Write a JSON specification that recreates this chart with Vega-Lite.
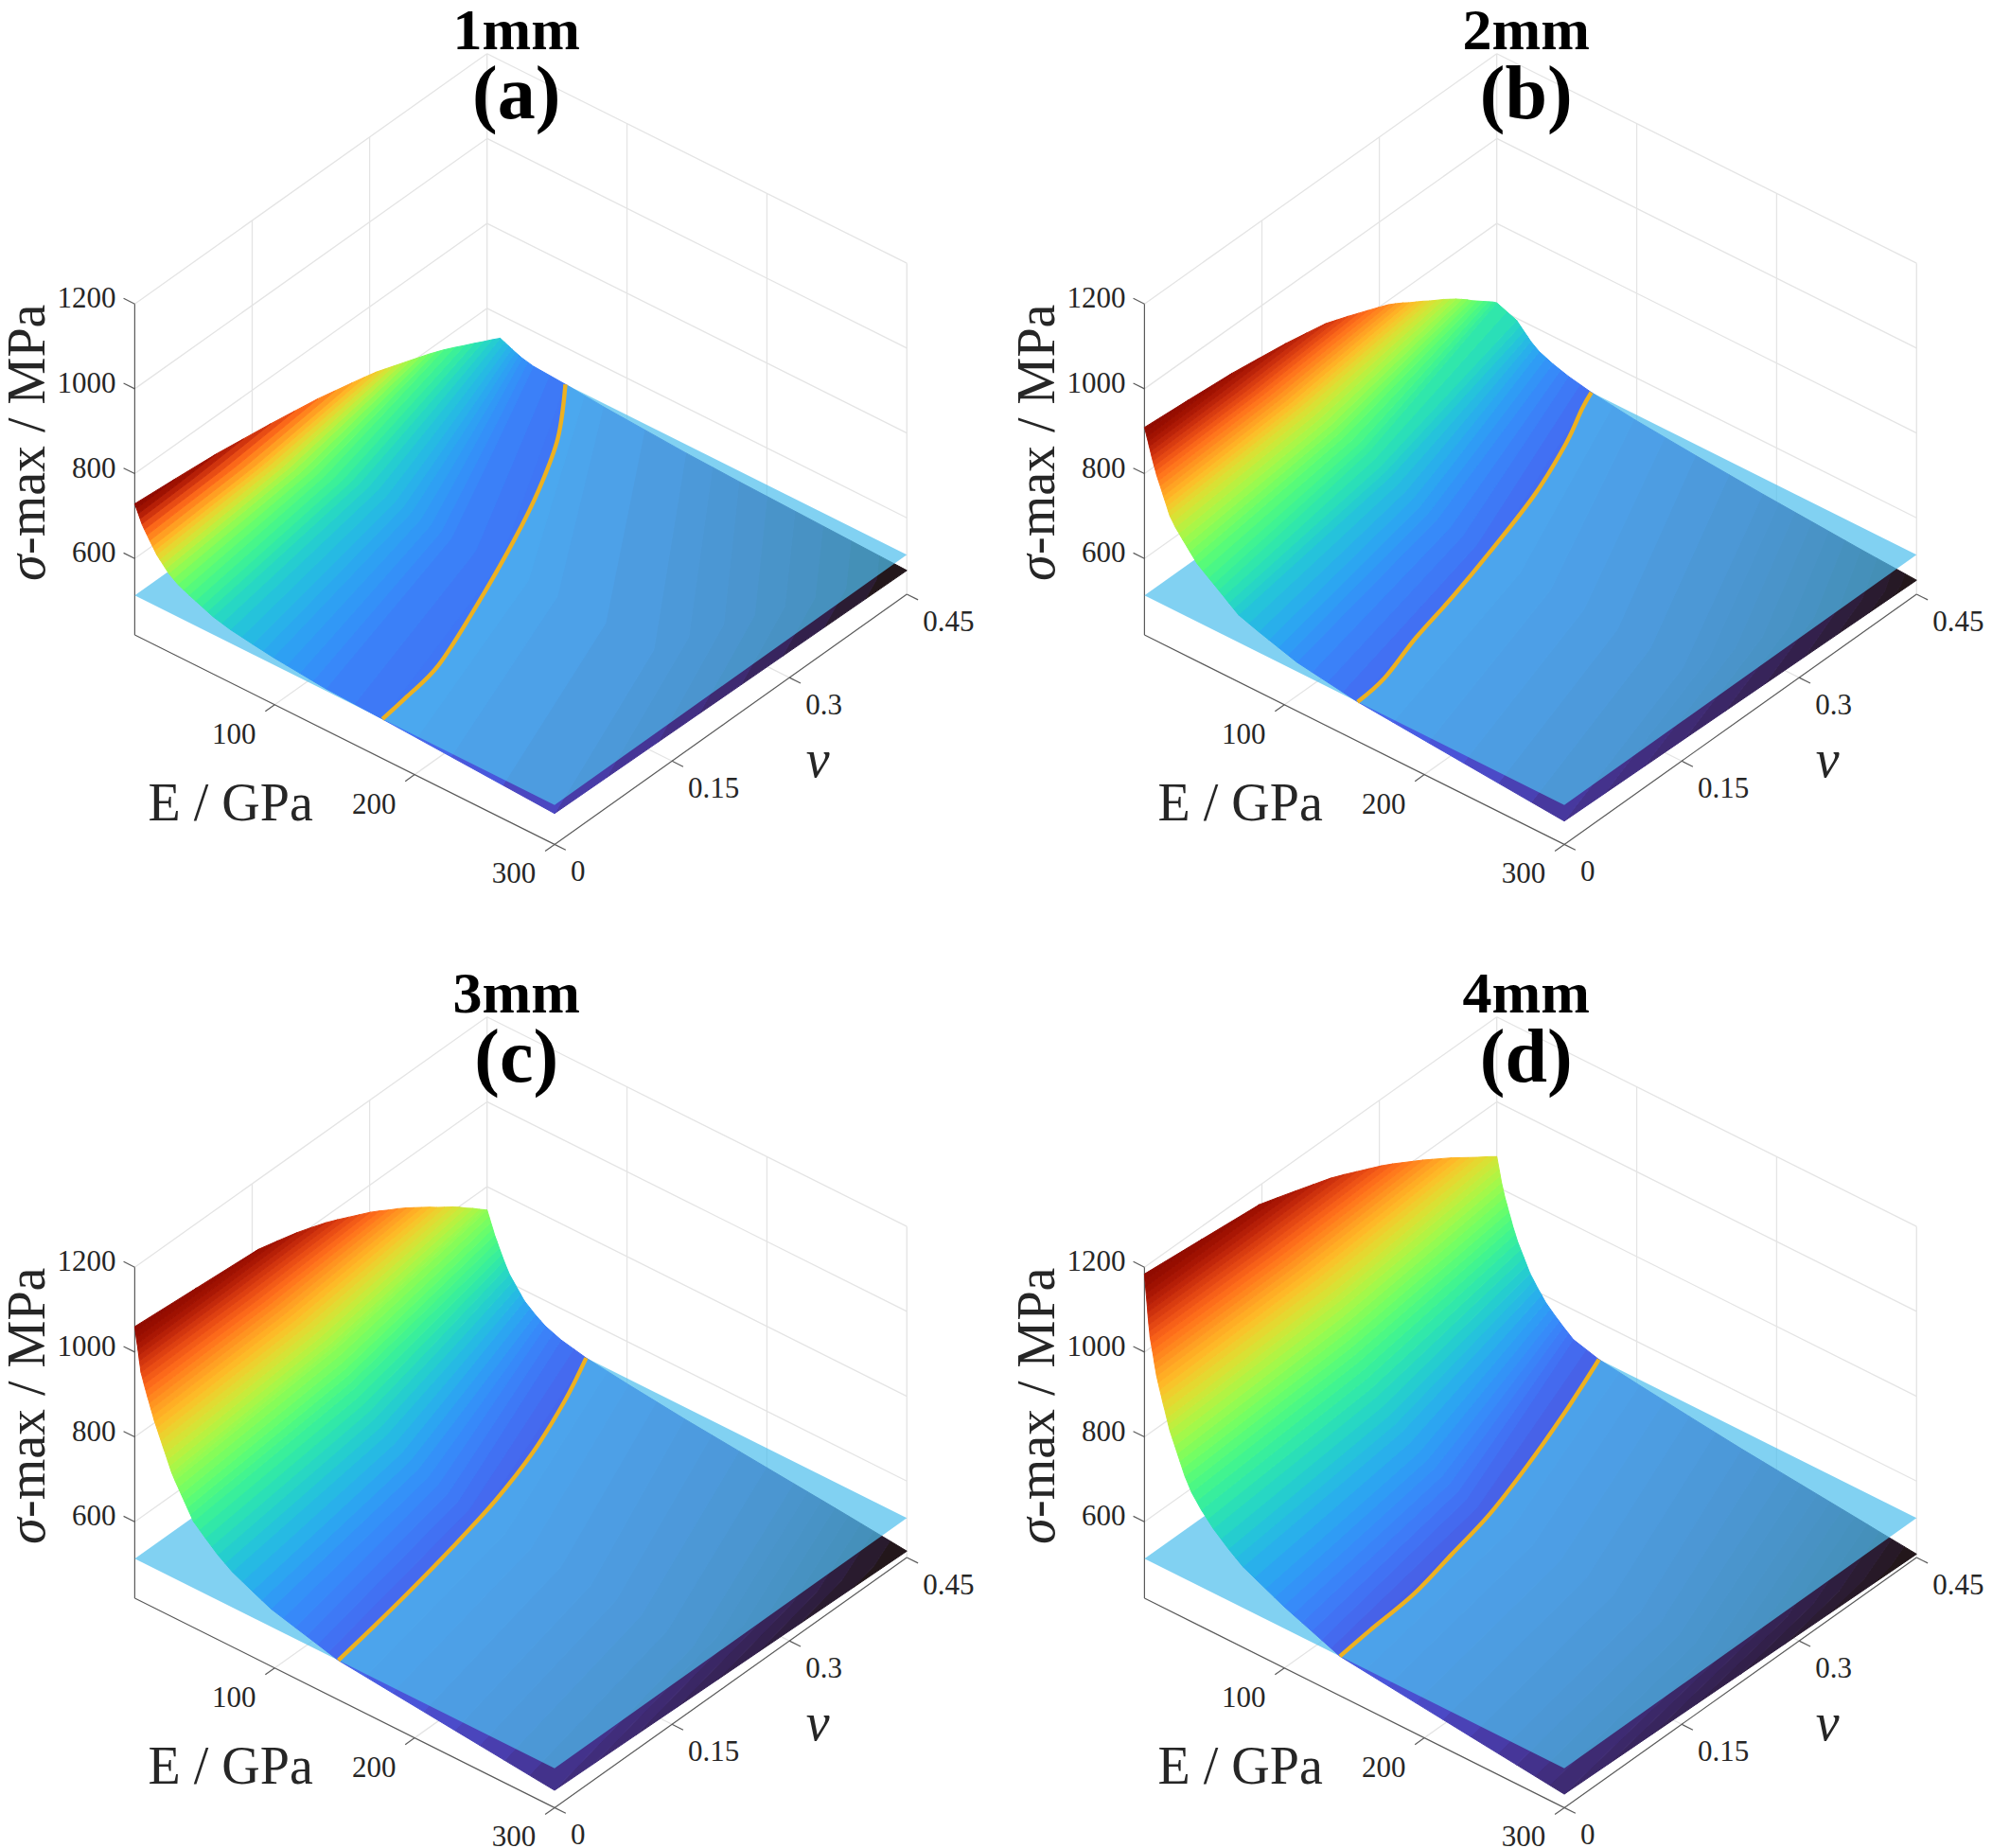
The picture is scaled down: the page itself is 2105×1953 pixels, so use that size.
{"$schema":"https://vega.github.io/schema/vega-lite/v6.json","padding":0,"background":"white","config":{"view":{"stroke":null},"header":{"labels":false,"title":null,"labelFontSize":1,"labelPadding":0,"labelColor":"transparent"},"headerFacet":{"labels":false,"title":null,"labelFontSize":1,"labelPadding":0,"labelColor":"transparent"}},
"datasets":{"surf":[
{"p":"1mm","lab":"(a)","E":0,"nu":0.45,"s":1200},{"p":"2mm","lab":"(b)","E":0,"nu":0.45,"s":1200},{"p":"3mm","lab":"(c)","E":0,"nu":0.45,"s":1200},{"p":"4mm","lab":"(d)","E":0,"nu":0.45,"s":1200},
{"p":"1mm","s":476,"t":0,"E":300,"nu":0.45},{"p":"1mm","s":476,"t":1,"E":300,"nu":0.45},{"p":"1mm","s":476,"t":2,"E":300,"nu":0.45},
{"p":"1mm","s":478,"t":0,"E":300,"nu":0.397},{"p":"1mm","s":478,"t":1,"E":293,"nu":0.424},{"p":"1mm","s":478,"t":2,"E":280,"nu":0.45},
{"p":"1mm","s":480,"t":0,"E":300,"nu":0.344},{"p":"1mm","s":480,"t":1,"E":286,"nu":0.397},{"p":"1mm","s":480,"t":2,"E":260,"nu":0.45},
{"p":"1mm","s":482,"t":0,"E":300,"nu":0.291},{"p":"1mm","s":482,"t":1,"E":279,"nu":0.37},{"p":"1mm","s":482,"t":2,"E":240,"nu":0.45},
{"p":"1mm","s":484,"t":0,"E":300,"nu":0.238},{"p":"1mm","s":484,"t":1,"E":272,"nu":0.344},{"p":"1mm","s":484,"t":2,"E":220,"nu":0.45},
{"p":"1mm","s":486,"t":0,"E":300,"nu":0.185},{"p":"1mm","s":486,"t":1,"E":265,"nu":0.318},{"p":"1mm","s":486,"t":2,"E":200,"nu":0.45},
{"p":"1mm","s":488,"t":0,"E":300,"nu":0.132},{"p":"1mm","s":488,"t":1,"E":258,"nu":0.291},{"p":"1mm","s":488,"t":2,"E":180,"nu":0.45},
{"p":"1mm","s":490.5,"t":0,"E":300,"nu":0.066},{"p":"1mm","s":490.5,"t":1,"E":251.5,"nu":0.258},{"p":"1mm","s":490.5,"t":2,"E":161,"nu":0.45},
{"p":"1mm","s":493,"t":0,"E":300,"nu":0},{"p":"1mm","s":493,"t":1,"E":245,"nu":0.225},{"p":"1mm","s":493,"t":2,"E":142,"nu":0.45},
{"p":"1mm","s":499,"t":0,"E":263,"nu":0},{"p":"1mm","s":499,"t":1,"E":210.5,"nu":0.225},{"p":"1mm","s":499,"t":2,"E":112.5,"nu":0.45},
{"p":"1mm","s":505,"t":0,"E":226,"nu":0},{"p":"1mm","s":505,"t":1,"E":176,"nu":0.225},{"p":"1mm","s":505,"t":2,"E":83,"nu":0.45},
{"p":"1mm","s":509,"t":0,"E":201.5,"nu":0},{"p":"1mm","s":509,"t":1,"E":155.3,"nu":0.225},{"p":"1mm","s":509,"t":2,"E":69.5,"nu":0.45},
{"p":"1mm","s":513,"t":0,"E":177,"nu":0},{"p":"1mm","s":513,"t":1,"E":134.6,"nu":0.225},{"p":"1mm","s":513,"t":2,"E":56,"nu":0.45},
{"p":"1mm","s":515.5,"t":0,"E":157,"nu":0},{"p":"1mm","s":515.5,"t":1,"E":117.5,"nu":0.225},{"p":"1mm","s":515.5,"t":2,"E":44.5,"nu":0.45},
{"p":"1mm","s":518,"t":0,"E":136.6,"nu":0},{"p":"1mm","s":518,"t":1,"E":100.3,"nu":0.225},{"p":"1mm","s":518,"t":2,"E":33,"nu":0.45},
{"p":"1mm","s":521,"t":0,"E":127.3,"nu":0},{"p":"1mm","s":521,"t":1,"E":92.9,"nu":0.225},{"p":"1mm","s":521,"t":2,"E":29,"nu":0.45},
{"p":"1mm","s":524,"t":0,"E":117.9,"nu":0},{"p":"1mm","s":524,"t":1,"E":85.4,"nu":0.225},{"p":"1mm","s":524,"t":2,"E":25,"nu":0.45},
{"p":"1mm","s":527,"t":0,"E":108.5,"nu":0},{"p":"1mm","s":527,"t":1,"E":78.4,"nu":0.225},{"p":"1mm","s":527,"t":2,"E":22.6,"nu":0.45},
{"p":"1mm","s":530,"t":0,"E":99,"nu":0},{"p":"1mm","s":530,"t":1,"E":71.4,"nu":0.225},{"p":"1mm","s":530,"t":2,"E":20.1,"nu":0.45},
{"p":"1mm","s":533.5,"t":0,"E":91.6,"nu":0},{"p":"1mm","s":533.5,"t":1,"E":65.7,"nu":0.225},{"p":"1mm","s":533.5,"t":2,"E":17.6,"nu":0.45},
{"p":"1mm","s":537,"t":0,"E":84.2,"nu":0},{"p":"1mm","s":537,"t":1,"E":60,"nu":0.225},{"p":"1mm","s":537,"t":2,"E":15.1,"nu":0.45},
{"p":"1mm","s":541,"t":0,"E":76.3,"nu":0},{"p":"1mm","s":541,"t":1,"E":53.9,"nu":0.225},{"p":"1mm","s":541,"t":2,"E":12.3,"nu":0.45},
{"p":"1mm","s":545,"t":0,"E":68.4,"nu":0},{"p":"1mm","s":545,"t":1,"E":47.8,"nu":0.225},{"p":"1mm","s":545,"t":2,"E":9.4,"nu":0.45},
{"p":"1mm","s":550,"t":0,"E":62.2,"nu":0},{"p":"1mm","s":550,"t":1,"E":43.3,"nu":0.221},{"p":"1mm","s":550,"t":2,"E":8.1,"nu":0.442},
{"p":"1mm","s":555,"t":0,"E":56,"nu":0},{"p":"1mm","s":555,"t":1,"E":38.8,"nu":0.217},{"p":"1mm","s":555,"t":2,"E":6.8,"nu":0.433},
{"p":"1mm","s":560.5,"t":0,"E":51.9,"nu":0},{"p":"1mm","s":560.5,"t":1,"E":35.6,"nu":0.212},{"p":"1mm","s":560.5,"t":2,"E":5.4,"nu":0.424},
{"p":"1mm","s":566,"t":0,"E":47.8,"nu":0},{"p":"1mm","s":566,"t":1,"E":32.4,"nu":0.207},{"p":"1mm","s":566,"t":2,"E":3.9,"nu":0.414},
{"p":"1mm","s":572,"t":0,"E":43.3,"nu":0},{"p":"1mm","s":572,"t":1,"E":29,"nu":0.202},{"p":"1mm","s":572,"t":2,"E":2.4,"nu":0.404},
{"p":"1mm","s":578,"t":0,"E":38.8,"nu":0},{"p":"1mm","s":578,"t":1,"E":25.5,"nu":0.197},{"p":"1mm","s":578,"t":2,"E":0.8,"nu":0.393},
{"p":"1mm","s":584,"t":0,"E":34.8,"nu":0},{"p":"1mm","s":584,"t":1,"E":22.8,"nu":0.193},{"p":"1mm","s":584,"t":2,"E":0.4,"nu":0.384},
{"p":"1mm","s":590,"t":0,"E":30.8,"nu":0},{"p":"1mm","s":590,"t":1,"E":20,"nu":0.188},{"p":"1mm","s":590,"t":2,"E":0,"nu":0.375},
{"p":"1mm","s":597.5,"t":0,"E":27.5,"nu":0},{"p":"1mm","s":597.5,"t":1,"E":17.9,"nu":0.182},{"p":"1mm","s":597.5,"t":2,"E":0,"nu":0.364},
{"p":"1mm","s":605,"t":0,"E":24.3,"nu":0},{"p":"1mm","s":605,"t":1,"E":15.8,"nu":0.177},{"p":"1mm","s":605,"t":2,"E":0,"nu":0.353},
{"p":"1mm","s":612.5,"t":0,"E":22.1,"nu":0},{"p":"1mm","s":612.5,"t":1,"E":14.4,"nu":0.172},{"p":"1mm","s":612.5,"t":2,"E":0,"nu":0.342},
{"p":"1mm","s":620,"t":0,"E":20,"nu":0},{"p":"1mm","s":620,"t":1,"E":13,"nu":0.166},{"p":"1mm","s":620,"t":2,"E":0,"nu":0.331},
{"p":"1mm","s":627.5,"t":0,"E":17.8,"nu":0},{"p":"1mm","s":627.5,"t":1,"E":11.6,"nu":0.16},{"p":"1mm","s":627.5,"t":2,"E":0,"nu":0.32},
{"p":"1mm","s":635,"t":0,"E":15.7,"nu":0},{"p":"1mm","s":635,"t":1,"E":10.2,"nu":0.155},{"p":"1mm","s":635,"t":2,"E":0,"nu":0.309},
{"p":"1mm","s":642.5,"t":0,"E":14.2,"nu":0},{"p":"1mm","s":642.5,"t":1,"E":9.2,"nu":0.147},{"p":"1mm","s":642.5,"t":2,"E":0,"nu":0.294},
{"p":"1mm","s":650,"t":0,"E":12.7,"nu":0},{"p":"1mm","s":650,"t":1,"E":8.3,"nu":0.139},{"p":"1mm","s":650,"t":2,"E":0,"nu":0.278},
{"p":"1mm","s":660,"t":0,"E":10.7,"nu":0},{"p":"1mm","s":660,"t":1,"E":7,"nu":0.128},{"p":"1mm","s":660,"t":2,"E":0,"nu":0.256},
{"p":"1mm","s":670,"t":0,"E":8.8,"nu":0},{"p":"1mm","s":670,"t":1,"E":5.7,"nu":0.117},{"p":"1mm","s":670,"t":2,"E":0,"nu":0.234},
{"p":"1mm","s":680,"t":0,"E":6.9,"nu":0},{"p":"1mm","s":680,"t":1,"E":4.5,"nu":0.102},{"p":"1mm","s":680,"t":2,"E":0,"nu":0.204},
{"p":"1mm","s":690,"t":0,"E":5.1,"nu":0},{"p":"1mm","s":690,"t":1,"E":3.3,"nu":0.087},{"p":"1mm","s":690,"t":2,"E":0,"nu":0.174},
{"p":"1mm","s":700,"t":0,"E":3.8,"nu":0},{"p":"1mm","s":700,"t":1,"E":2.4,"nu":0.07},{"p":"1mm","s":700,"t":2,"E":0,"nu":0.139},
{"p":"1mm","s":710,"t":0,"E":2.5,"nu":0},{"p":"1mm","s":710,"t":1,"E":1.6,"nu":0.052},{"p":"1mm","s":710,"t":2,"E":0,"nu":0.104},
{"p":"1mm","s":720,"t":0,"E":1.2,"nu":0},{"p":"1mm","s":720,"t":1,"E":0.8,"nu":0.026},{"p":"1mm","s":720,"t":2,"E":0,"nu":0.052},
{"p":"1mm","s":729,"t":0,"E":0,"nu":0},{"p":"1mm","s":729,"t":1,"E":0,"nu":0},{"p":"1mm","s":729,"t":2,"E":0,"nu":0},

{"p":"2mm","s":453,"t":0,"E":300,"nu":0.45},{"p":"2mm","s":453,"t":1,"E":300,"nu":0.45},{"p":"2mm","s":453,"t":2,"E":300,"nu":0.45},
{"p":"2mm","s":454.5,"t":0,"E":300,"nu":0.42},{"p":"2mm","s":454.5,"t":1,"E":297,"nu":0.435},{"p":"2mm","s":454.5,"t":2,"E":291.5,"nu":0.45},
{"p":"2mm","s":456,"t":0,"E":300,"nu":0.389},{"p":"2mm","s":456,"t":1,"E":294,"nu":0.42},{"p":"2mm","s":456,"t":2,"E":283,"nu":0.45},
{"p":"2mm","s":458,"t":0,"E":300,"nu":0.348},{"p":"2mm","s":458,"t":1,"E":289.5,"nu":0.399},{"p":"2mm","s":458,"t":2,"E":271.5,"nu":0.45},
{"p":"2mm","s":460,"t":0,"E":300,"nu":0.307},{"p":"2mm","s":460,"t":1,"E":285,"nu":0.378},{"p":"2mm","s":460,"t":2,"E":260,"nu":0.45},
{"p":"2mm","s":462.5,"t":0,"E":300,"nu":0.256},{"p":"2mm","s":462.5,"t":1,"E":281,"nu":0.353},{"p":"2mm","s":462.5,"t":2,"E":248.5,"nu":0.45},
{"p":"2mm","s":465,"t":0,"E":300,"nu":0.205},{"p":"2mm","s":465,"t":1,"E":277,"nu":0.328},{"p":"2mm","s":465,"t":2,"E":237,"nu":0.45},
{"p":"2mm","s":467.5,"t":0,"E":300,"nu":0.154},{"p":"2mm","s":467.5,"t":1,"E":272.5,"nu":0.302},{"p":"2mm","s":467.5,"t":2,"E":225,"nu":0.45},
{"p":"2mm","s":470,"t":0,"E":300,"nu":0.102},{"p":"2mm","s":470,"t":1,"E":268,"nu":0.276},{"p":"2mm","s":470,"t":2,"E":213,"nu":0.45},
{"p":"2mm","s":472.5,"t":0,"E":300,"nu":0.051},{"p":"2mm","s":472.5,"t":1,"E":263.5,"nu":0.25},{"p":"2mm","s":472.5,"t":2,"E":201.5,"nu":0.45},
{"p":"2mm","s":475,"t":0,"E":300,"nu":0},{"p":"2mm","s":475,"t":1,"E":259,"nu":0.225},{"p":"2mm","s":475,"t":2,"E":190,"nu":0.45},
{"p":"2mm","s":481,"t":0,"E":276.5,"nu":0},{"p":"2mm","s":481,"t":1,"E":235.5,"nu":0.225},{"p":"2mm","s":481,"t":2,"E":166,"nu":0.45},
{"p":"2mm","s":487,"t":0,"E":252.9,"nu":0},{"p":"2mm","s":487,"t":1,"E":212,"nu":0.225},{"p":"2mm","s":487,"t":2,"E":142,"nu":0.45},
{"p":"2mm","s":493.5,"t":0,"E":227.8,"nu":0},{"p":"2mm","s":493.5,"t":1,"E":188,"nu":0.225},{"p":"2mm","s":493.5,"t":2,"E":120,"nu":0.45},
{"p":"2mm","s":500,"t":0,"E":202.6,"nu":0},{"p":"2mm","s":500,"t":1,"E":164,"nu":0.225},{"p":"2mm","s":500,"t":2,"E":98,"nu":0.45},
{"p":"2mm","s":506.5,"t":0,"E":177.5,"nu":0},{"p":"2mm","s":506.5,"t":1,"E":142.5,"nu":0.225},{"p":"2mm","s":506.5,"t":2,"E":82.8,"nu":0.45},
{"p":"2mm","s":513,"t":0,"E":152.3,"nu":0},{"p":"2mm","s":513,"t":1,"E":121,"nu":0.225},{"p":"2mm","s":513,"t":2,"E":67.6,"nu":0.45},
{"p":"2mm","s":518.5,"t":0,"E":141.5,"nu":0},{"p":"2mm","s":518.5,"t":1,"E":111.1,"nu":0.225},{"p":"2mm","s":518.5,"t":2,"E":59.4,"nu":0.45},
{"p":"2mm","s":524,"t":0,"E":130.6,"nu":0},{"p":"2mm","s":524,"t":1,"E":101.2,"nu":0.225},{"p":"2mm","s":524,"t":2,"E":51.2,"nu":0.45},
{"p":"2mm","s":529.5,"t":0,"E":119.7,"nu":0},{"p":"2mm","s":529.5,"t":1,"E":92.3,"nu":0.225},{"p":"2mm","s":529.5,"t":2,"E":45.6,"nu":0.45},
{"p":"2mm","s":535,"t":0,"E":108.8,"nu":0},{"p":"2mm","s":535,"t":1,"E":83.3,"nu":0.225},{"p":"2mm","s":535,"t":2,"E":40,"nu":0.45},
{"p":"2mm","s":541.5,"t":0,"E":102.3,"nu":0},{"p":"2mm","s":541.5,"t":1,"E":77.4,"nu":0.225},{"p":"2mm","s":541.5,"t":2,"E":35.2,"nu":0.45},
{"p":"2mm","s":548,"t":0,"E":95.7,"nu":0},{"p":"2mm","s":548,"t":1,"E":71.5,"nu":0.225},{"p":"2mm","s":548,"t":2,"E":30.3,"nu":0.45},
{"p":"2mm","s":555,"t":0,"E":88.7,"nu":0},{"p":"2mm","s":555,"t":1,"E":66,"nu":0.225},{"p":"2mm","s":555,"t":2,"E":27.3,"nu":0.45},
{"p":"2mm","s":562,"t":0,"E":81.6,"nu":0},{"p":"2mm","s":562,"t":1,"E":60.4,"nu":0.225},{"p":"2mm","s":562,"t":2,"E":24.3,"nu":0.45},
{"p":"2mm","s":570,"t":0,"E":74.4,"nu":0},{"p":"2mm","s":570,"t":1,"E":55,"nu":0.225},{"p":"2mm","s":570,"t":2,"E":21.9,"nu":0.45},
{"p":"2mm","s":578,"t":0,"E":67.2,"nu":0},{"p":"2mm","s":578,"t":1,"E":49.5,"nu":0.225},{"p":"2mm","s":578,"t":2,"E":19.4,"nu":0.45},
{"p":"2mm","s":586.5,"t":0,"E":63.7,"nu":0},{"p":"2mm","s":586.5,"t":1,"E":46.4,"nu":0.225},{"p":"2mm","s":586.5,"t":2,"E":16.8,"nu":0.45},
{"p":"2mm","s":595,"t":0,"E":60.2,"nu":0},{"p":"2mm","s":595,"t":1,"E":43.2,"nu":0.225},{"p":"2mm","s":595,"t":2,"E":14.2,"nu":0.45},
{"p":"2mm","s":604,"t":0,"E":56.6,"nu":0},{"p":"2mm","s":604,"t":1,"E":38.8,"nu":0.225},{"p":"2mm","s":604,"t":2,"E":7.1,"nu":0.45},
{"p":"2mm","s":613,"t":0,"E":52.9,"nu":0},{"p":"2mm","s":613,"t":1,"E":34.4,"nu":0.225},{"p":"2mm","s":613,"t":2,"E":0,"nu":0.45},
{"p":"2mm","s":621.5,"t":0,"E":49.4,"nu":0},{"p":"2mm","s":621.5,"t":1,"E":32.1,"nu":0.223},{"p":"2mm","s":621.5,"t":2,"E":0,"nu":0.445},
{"p":"2mm","s":630,"t":0,"E":45.8,"nu":0},{"p":"2mm","s":630,"t":1,"E":29.8,"nu":0.22},{"p":"2mm","s":630,"t":2,"E":0,"nu":0.439},
{"p":"2mm","s":640,"t":0,"E":41.7,"nu":0},{"p":"2mm","s":640,"t":1,"E":27.1,"nu":0.216},{"p":"2mm","s":640,"t":2,"E":0,"nu":0.432},
{"p":"2mm","s":650,"t":0,"E":37.6,"nu":0},{"p":"2mm","s":650,"t":1,"E":24.4,"nu":0.212},{"p":"2mm","s":650,"t":2,"E":0,"nu":0.425},
{"p":"2mm","s":660,"t":0,"E":35,"nu":0},{"p":"2mm","s":660,"t":1,"E":22.7,"nu":0.209},{"p":"2mm","s":660,"t":2,"E":0,"nu":0.418},
{"p":"2mm","s":670,"t":0,"E":32.3,"nu":0},{"p":"2mm","s":670,"t":1,"E":21,"nu":0.206},{"p":"2mm","s":670,"t":2,"E":0,"nu":0.412},
{"p":"2mm","s":680,"t":0,"E":29.8,"nu":0},{"p":"2mm","s":680,"t":1,"E":19.4,"nu":0.203},{"p":"2mm","s":680,"t":2,"E":0,"nu":0.405},
{"p":"2mm","s":690,"t":0,"E":27.2,"nu":0},{"p":"2mm","s":690,"t":1,"E":17.7,"nu":0.199},{"p":"2mm","s":690,"t":2,"E":0,"nu":0.398},
{"p":"2mm","s":700,"t":0,"E":24.7,"nu":0},{"p":"2mm","s":700,"t":1,"E":16,"nu":0.195},{"p":"2mm","s":700,"t":2,"E":0,"nu":0.39},
{"p":"2mm","s":710,"t":0,"E":22.1,"nu":0},{"p":"2mm","s":710,"t":1,"E":14.4,"nu":0.191},{"p":"2mm","s":710,"t":2,"E":0,"nu":0.382},
{"p":"2mm","s":720,"t":0,"E":20.2,"nu":0},{"p":"2mm","s":720,"t":1,"E":13.1,"nu":0.187},{"p":"2mm","s":720,"t":2,"E":0,"nu":0.373},
{"p":"2mm","s":730,"t":0,"E":18.2,"nu":0},{"p":"2mm","s":730,"t":1,"E":11.8,"nu":0.182},{"p":"2mm","s":730,"t":2,"E":0,"nu":0.364},
{"p":"2mm","s":740,"t":0,"E":17,"nu":0},{"p":"2mm","s":740,"t":1,"E":11,"nu":0.178},{"p":"2mm","s":740,"t":2,"E":0,"nu":0.356},
{"p":"2mm","s":750,"t":0,"E":15.9,"nu":0},{"p":"2mm","s":750,"t":1,"E":10.3,"nu":0.174},{"p":"2mm","s":750,"t":2,"E":0,"nu":0.347},
{"p":"2mm","s":760,"t":0,"E":14.7,"nu":0},{"p":"2mm","s":760,"t":1,"E":9.5,"nu":0.17},{"p":"2mm","s":760,"t":2,"E":0,"nu":0.338},
{"p":"2mm","s":770,"t":0,"E":13.5,"nu":0},{"p":"2mm","s":770,"t":1,"E":8.8,"nu":0.165},{"p":"2mm","s":770,"t":2,"E":0,"nu":0.33},
{"p":"2mm","s":780,"t":0,"E":12.4,"nu":0},{"p":"2mm","s":780,"t":1,"E":8,"nu":0.16},{"p":"2mm","s":780,"t":2,"E":0,"nu":0.321},
{"p":"2mm","s":790,"t":0,"E":11.2,"nu":0},{"p":"2mm","s":790,"t":1,"E":7.3,"nu":0.156},{"p":"2mm","s":790,"t":2,"E":0,"nu":0.3115},
{"p":"2mm","s":800,"t":0,"E":10,"nu":0},{"p":"2mm","s":800,"t":1,"E":6.5,"nu":0.15},{"p":"2mm","s":800,"t":2,"E":0,"nu":0.299},
{"p":"2mm","s":810,"t":0,"E":8.8,"nu":0},{"p":"2mm","s":810,"t":1,"E":5.7,"nu":0.143},{"p":"2mm","s":810,"t":2,"E":0,"nu":0.286},
{"p":"2mm","s":820,"t":0,"E":7.9,"nu":0},{"p":"2mm","s":820,"t":1,"E":5.1,"nu":0.137},{"p":"2mm","s":820,"t":2,"E":0,"nu":0.273},
{"p":"2mm","s":830,"t":0,"E":6.9,"nu":0},{"p":"2mm","s":830,"t":1,"E":4.5,"nu":0.13},{"p":"2mm","s":830,"t":2,"E":0,"nu":0.26},
{"p":"2mm","s":840,"t":0,"E":6,"nu":0},{"p":"2mm","s":840,"t":1,"E":3.9,"nu":0.123},{"p":"2mm","s":840,"t":2,"E":0,"nu":0.246},
{"p":"2mm","s":850,"t":0,"E":5.1,"nu":0},{"p":"2mm","s":850,"t":1,"E":3.3,"nu":0.116},{"p":"2mm","s":850,"t":2,"E":0,"nu":0.232},
{"p":"2mm","s":860,"t":0,"E":4.3,"nu":0},{"p":"2mm","s":860,"t":1,"E":2.8,"nu":0.103},{"p":"2mm","s":860,"t":2,"E":0,"nu":0.207},
{"p":"2mm","s":870,"t":0,"E":3.4,"nu":0},{"p":"2mm","s":870,"t":1,"E":2.2,"nu":0.09},{"p":"2mm","s":870,"t":2,"E":0,"nu":0.181},
{"p":"2mm","s":880,"t":0,"E":2.6,"nu":0},{"p":"2mm","s":880,"t":1,"E":1.7,"nu":0.073},{"p":"2mm","s":880,"t":2,"E":0,"nu":0.147},
{"p":"2mm","s":890,"t":0,"E":1.7,"nu":0},{"p":"2mm","s":890,"t":1,"E":1.1,"nu":0.056},{"p":"2mm","s":890,"t":2,"E":0,"nu":0.112},
{"p":"2mm","s":900,"t":0,"E":0.9,"nu":0},{"p":"2mm","s":900,"t":1,"E":0.6,"nu":0.028},{"p":"2mm","s":900,"t":2,"E":0,"nu":0.056},
{"p":"2mm","s":909,"t":0,"E":0,"nu":0},{"p":"2mm","s":909,"t":1,"E":0,"nu":0},{"p":"2mm","s":909,"t":2,"E":0,"nu":0},

{"p":"3mm","s":435,"t":0,"E":300,"nu":0.45},{"p":"3mm","s":435,"t":1,"E":300,"nu":0.45},{"p":"3mm","s":435,"t":2,"E":300,"nu":0.45},
{"p":"3mm","s":439,"t":0,"E":300,"nu":0.381},{"p":"3mm","s":439,"t":1,"E":296,"nu":0.415},{"p":"3mm","s":439,"t":2,"E":288,"nu":0.45},
{"p":"3mm","s":443,"t":0,"E":300,"nu":0.312},{"p":"3mm","s":443,"t":1,"E":292,"nu":0.381},{"p":"3mm","s":443,"t":2,"E":276,"nu":0.45},
{"p":"3mm","s":446,"t":0,"E":300,"nu":0.26},{"p":"3mm","s":446,"t":1,"E":289,"nu":0.355},{"p":"3mm","s":446,"t":2,"E":267,"nu":0.45},
{"p":"3mm","s":449,"t":0,"E":300,"nu":0.208},{"p":"3mm","s":449,"t":1,"E":286,"nu":0.329},{"p":"3mm","s":449,"t":2,"E":258,"nu":0.45},
{"p":"3mm","s":452,"t":0,"E":300,"nu":0.156},{"p":"3mm","s":452,"t":1,"E":283,"nu":0.303},{"p":"3mm","s":452,"t":2,"E":248.5,"nu":0.45},
{"p":"3mm","s":455,"t":0,"E":300,"nu":0.104},{"p":"3mm","s":455,"t":1,"E":280,"nu":0.277},{"p":"3mm","s":455,"t":2,"E":239,"nu":0.45},
{"p":"3mm","s":458,"t":0,"E":300,"nu":0.052},{"p":"3mm","s":458,"t":1,"E":276.5,"nu":0.251},{"p":"3mm","s":458,"t":2,"E":229,"nu":0.45},
{"p":"3mm","s":461,"t":0,"E":300,"nu":0},{"p":"3mm","s":461,"t":1,"E":273,"nu":0.225},{"p":"3mm","s":461,"t":2,"E":219,"nu":0.45},
{"p":"3mm","s":467,"t":0,"E":282,"nu":0},{"p":"3mm","s":467,"t":1,"E":254.5,"nu":0.225},{"p":"3mm","s":467,"t":2,"E":199.5,"nu":0.45},
{"p":"3mm","s":473,"t":0,"E":264.3,"nu":0},{"p":"3mm","s":473,"t":1,"E":236,"nu":0.225},{"p":"3mm","s":473,"t":2,"E":180,"nu":0.45},
{"p":"3mm","s":479,"t":0,"E":246.5,"nu":0},{"p":"3mm","s":479,"t":1,"E":218,"nu":0.225},{"p":"3mm","s":479,"t":2,"E":160.5,"nu":0.45},
{"p":"3mm","s":485,"t":0,"E":228.7,"nu":0},{"p":"3mm","s":485,"t":1,"E":200,"nu":0.225},{"p":"3mm","s":485,"t":2,"E":141,"nu":0.45},
{"p":"3mm","s":492.5,"t":0,"E":206.4,"nu":0},{"p":"3mm","s":492.5,"t":1,"E":178.5,"nu":0.225},{"p":"3mm","s":492.5,"t":2,"E":121,"nu":0.45},
{"p":"3mm","s":500,"t":0,"E":184,"nu":0},{"p":"3mm","s":500,"t":1,"E":157,"nu":0.225},{"p":"3mm","s":500,"t":2,"E":101,"nu":0.45},
{"p":"3mm","s":506.5,"t":0,"E":164.8,"nu":0},{"p":"3mm","s":506.5,"t":1,"E":138.9,"nu":0.225},{"p":"3mm","s":506.5,"t":2,"E":85.9,"nu":0.45},
{"p":"3mm","s":513,"t":0,"E":145.5,"nu":0},{"p":"3mm","s":513,"t":1,"E":120.8,"nu":0.225},{"p":"3mm","s":513,"t":2,"E":70.8,"nu":0.45},
{"p":"3mm","s":519.5,"t":0,"E":138,"nu":0},{"p":"3mm","s":519.5,"t":1,"E":112.9,"nu":0.225},{"p":"3mm","s":519.5,"t":2,"E":61.9,"nu":0.45},
{"p":"3mm","s":526,"t":0,"E":130.6,"nu":0},{"p":"3mm","s":526,"t":1,"E":105,"nu":0.225},{"p":"3mm","s":526,"t":2,"E":52.9,"nu":0.45},
{"p":"3mm","s":533,"t":0,"E":122.6,"nu":0},{"p":"3mm","s":533,"t":1,"E":97.8,"nu":0.225},{"p":"3mm","s":533,"t":2,"E":47.3,"nu":0.45},
{"p":"3mm","s":540,"t":0,"E":114.6,"nu":0},{"p":"3mm","s":540,"t":1,"E":90.5,"nu":0.225},{"p":"3mm","s":540,"t":2,"E":41.7,"nu":0.45},
{"p":"3mm","s":547.5,"t":0,"E":106,"nu":0},{"p":"3mm","s":547.5,"t":1,"E":83.6,"nu":0.225},{"p":"3mm","s":547.5,"t":2,"E":38.1,"nu":0.45},
{"p":"3mm","s":555,"t":0,"E":97.4,"nu":0},{"p":"3mm","s":555,"t":1,"E":76.6,"nu":0.225},{"p":"3mm","s":555,"t":2,"E":34.5,"nu":0.45},
{"p":"3mm","s":565,"t":0,"E":90.7,"nu":0},{"p":"3mm","s":565,"t":1,"E":70.8,"nu":0.225},{"p":"3mm","s":565,"t":2,"E":30.6,"nu":0.45},
{"p":"3mm","s":575,"t":0,"E":83.9,"nu":0},{"p":"3mm","s":575,"t":1,"E":65,"nu":0.225},{"p":"3mm","s":575,"t":2,"E":26.6,"nu":0.45},
{"p":"3mm","s":586,"t":0,"E":76.8,"nu":0},{"p":"3mm","s":586,"t":1,"E":59.4,"nu":0.225},{"p":"3mm","s":586,"t":2,"E":24,"nu":0.45},
{"p":"3mm","s":597,"t":0,"E":69.6,"nu":0},{"p":"3mm","s":597,"t":1,"E":53.7,"nu":0.225},{"p":"3mm","s":597,"t":2,"E":21.4,"nu":0.45},
{"p":"3mm","s":608.5,"t":0,"E":64.5,"nu":0},{"p":"3mm","s":608.5,"t":1,"E":49.4,"nu":0.225},{"p":"3mm","s":608.5,"t":2,"E":18.7,"nu":0.45},
{"p":"3mm","s":620,"t":0,"E":59.3,"nu":0},{"p":"3mm","s":620,"t":1,"E":45,"nu":0.225},{"p":"3mm","s":620,"t":2,"E":16,"nu":0.45},
{"p":"3mm","s":632.5,"t":0,"E":54.9,"nu":0},{"p":"3mm","s":632.5,"t":1,"E":41.4,"nu":0.225},{"p":"3mm","s":632.5,"t":2,"E":14,"nu":0.45},
{"p":"3mm","s":645,"t":0,"E":50.4,"nu":0},{"p":"3mm","s":645,"t":1,"E":37.8,"nu":0.225},{"p":"3mm","s":645,"t":2,"E":12.1,"nu":0.45},
{"p":"3mm","s":657.5,"t":0,"E":46.2,"nu":0},{"p":"3mm","s":657.5,"t":1,"E":34.4,"nu":0.225},{"p":"3mm","s":657.5,"t":2,"E":10.4,"nu":0.45},
{"p":"3mm","s":670,"t":0,"E":41.9,"nu":0},{"p":"3mm","s":670,"t":1,"E":30.9,"nu":0.225},{"p":"3mm","s":670,"t":2,"E":8.7,"nu":0.45},
{"p":"3mm","s":682.5,"t":0,"E":39.7,"nu":0},{"p":"3mm","s":682.5,"t":1,"E":28.9,"nu":0.225},{"p":"3mm","s":682.5,"t":2,"E":7.1,"nu":0.45},
{"p":"3mm","s":695,"t":0,"E":37.5,"nu":0},{"p":"3mm","s":695,"t":1,"E":26.9,"nu":0.225},{"p":"3mm","s":695,"t":2,"E":5.4,"nu":0.45},
{"p":"3mm","s":707.5,"t":0,"E":35.3,"nu":0},{"p":"3mm","s":707.5,"t":1,"E":25,"nu":0.225},{"p":"3mm","s":707.5,"t":2,"E":4.1,"nu":0.45},
{"p":"3mm","s":720,"t":0,"E":33.1,"nu":0},{"p":"3mm","s":720,"t":1,"E":23.1,"nu":0.225},{"p":"3mm","s":720,"t":2,"E":2.7,"nu":0.45},
{"p":"3mm","s":732.5,"t":0,"E":30.9,"nu":0},{"p":"3mm","s":732.5,"t":1,"E":20.9,"nu":0.225},{"p":"3mm","s":732.5,"t":2,"E":1.4,"nu":0.45},
{"p":"3mm","s":745,"t":0,"E":28.7,"nu":0},{"p":"3mm","s":745,"t":1,"E":18.7,"nu":0.225},{"p":"3mm","s":745,"t":2,"E":0,"nu":0.45},
{"p":"3mm","s":752.5,"t":0,"E":27.5,"nu":0},{"p":"3mm","s":752.5,"t":1,"E":17.9,"nu":0.222},{"p":"3mm","s":752.5,"t":2,"E":0,"nu":0.445},
{"p":"3mm","s":760,"t":0,"E":26.3,"nu":0},{"p":"3mm","s":760,"t":1,"E":17.1,"nu":0.22},{"p":"3mm","s":760,"t":2,"E":0,"nu":0.44},
{"p":"3mm","s":772.5,"t":0,"E":24.8,"nu":0},{"p":"3mm","s":772.5,"t":1,"E":16.1,"nu":0.216},{"p":"3mm","s":772.5,"t":2,"E":0,"nu":0.432},
{"p":"3mm","s":785,"t":0,"E":23.3,"nu":0},{"p":"3mm","s":785,"t":1,"E":15.1,"nu":0.211},{"p":"3mm","s":785,"t":2,"E":0,"nu":0.423},
{"p":"3mm","s":797.5,"t":0,"E":21.8,"nu":0},{"p":"3mm","s":797.5,"t":1,"E":14.1,"nu":0.207},{"p":"3mm","s":797.5,"t":2,"E":0,"nu":0.415},
{"p":"3mm","s":810,"t":0,"E":20.2,"nu":0},{"p":"3mm","s":810,"t":1,"E":13.1,"nu":0.203},{"p":"3mm","s":810,"t":2,"E":0,"nu":0.406},
{"p":"3mm","s":822.5,"t":0,"E":18.7,"nu":0},{"p":"3mm","s":822.5,"t":1,"E":12.2,"nu":0.198},{"p":"3mm","s":822.5,"t":2,"E":0,"nu":0.396},
{"p":"3mm","s":835,"t":0,"E":17.2,"nu":0},{"p":"3mm","s":835,"t":1,"E":11.2,"nu":0.193},{"p":"3mm","s":835,"t":2,"E":0,"nu":0.386},
{"p":"3mm","s":847.5,"t":0,"E":15.7,"nu":0},{"p":"3mm","s":847.5,"t":1,"E":10.2,"nu":0.188},{"p":"3mm","s":847.5,"t":2,"E":0,"nu":0.377},
{"p":"3mm","s":860,"t":0,"E":14.1,"nu":0},{"p":"3mm","s":860,"t":1,"E":9.2,"nu":0.183},{"p":"3mm","s":860,"t":2,"E":0,"nu":0.367},
{"p":"3mm","s":872.5,"t":0,"E":12.9,"nu":0},{"p":"3mm","s":872.5,"t":1,"E":8.4,"nu":0.179},{"p":"3mm","s":872.5,"t":2,"E":0,"nu":0.357},
{"p":"3mm","s":885,"t":0,"E":11.6,"nu":0},{"p":"3mm","s":885,"t":1,"E":7.5,"nu":0.174},{"p":"3mm","s":885,"t":2,"E":0,"nu":0.347},
{"p":"3mm","s":897.5,"t":0,"E":10.4,"nu":0},{"p":"3mm","s":897.5,"t":1,"E":6.7,"nu":0.168},{"p":"3mm","s":897.5,"t":2,"E":0,"nu":0.336},
{"p":"3mm","s":910,"t":0,"E":9.1,"nu":0},{"p":"3mm","s":910,"t":1,"E":5.9,"nu":0.162},{"p":"3mm","s":910,"t":2,"E":0,"nu":0.324},
{"p":"3mm","s":922.5,"t":0,"E":7.9,"nu":0},{"p":"3mm","s":922.5,"t":1,"E":5.2,"nu":0.157},{"p":"3mm","s":922.5,"t":2,"E":0,"nu":0.313},
{"p":"3mm","s":935,"t":0,"E":6.7,"nu":0},{"p":"3mm","s":935,"t":1,"E":4.4,"nu":0.151},{"p":"3mm","s":935,"t":2,"E":0,"nu":0.301},
{"p":"3mm","s":947.5,"t":0,"E":5.6,"nu":0},{"p":"3mm","s":947.5,"t":1,"E":3.7,"nu":0.144},{"p":"3mm","s":947.5,"t":2,"E":0,"nu":0.287},
{"p":"3mm","s":960,"t":0,"E":4.4,"nu":0},{"p":"3mm","s":960,"t":1,"E":2.9,"nu":0.137},{"p":"3mm","s":960,"t":2,"E":0,"nu":0.273},
{"p":"3mm","s":972.5,"t":0,"E":3.9,"nu":0},{"p":"3mm","s":972.5,"t":1,"E":2.5,"nu":0.13},{"p":"3mm","s":972.5,"t":2,"E":0,"nu":0.259},
{"p":"3mm","s":985,"t":0,"E":3.3,"nu":0},{"p":"3mm","s":985,"t":1,"E":2.1,"nu":0.122},{"p":"3mm","s":985,"t":2,"E":0,"nu":0.244},
{"p":"3mm","s":997.5,"t":0,"E":2.8,"nu":0},{"p":"3mm","s":997.5,"t":1,"E":1.8,"nu":0.113},{"p":"3mm","s":997.5,"t":2,"E":0,"nu":0.226},
{"p":"3mm","s":1010,"t":0,"E":2.3,"nu":0},{"p":"3mm","s":1010,"t":1,"E":1.5,"nu":0.103},{"p":"3mm","s":1010,"t":2,"E":0,"nu":0.207},
{"p":"3mm","s":1022.5,"t":0,"E":1.7,"nu":0},{"p":"3mm","s":1022.5,"t":1,"E":1.1,"nu":0.091},{"p":"3mm","s":1022.5,"t":2,"E":0,"nu":0.183},
{"p":"3mm","s":1035,"t":0,"E":1.1,"nu":0},{"p":"3mm","s":1035,"t":1,"E":0.7,"nu":0.079},{"p":"3mm","s":1035,"t":2,"E":0,"nu":0.158},
{"p":"3mm","s":1047.5,"t":0,"E":0.6,"nu":0},{"p":"3mm","s":1047.5,"t":1,"E":0.4,"nu":0.04},{"p":"3mm","s":1047.5,"t":2,"E":0,"nu":0.079},
{"p":"3mm","s":1060,"t":0,"E":0,"nu":0},{"p":"3mm","s":1060,"t":1,"E":0,"nu":0},{"p":"3mm","s":1060,"t":2,"E":0,"nu":0},

{"p":"4mm","s":428,"t":0,"E":300,"nu":0.45},{"p":"4mm","s":428,"t":1,"E":300,"nu":0.45},{"p":"4mm","s":428,"t":2,"E":300,"nu":0.45},
{"p":"4mm","s":431,"t":0,"E":300,"nu":0.394},{"p":"4mm","s":431,"t":1,"E":297,"nu":0.422},{"p":"4mm","s":431,"t":2,"E":291,"nu":0.45},
{"p":"4mm","s":434,"t":0,"E":300,"nu":0.3375},{"p":"4mm","s":434,"t":1,"E":294,"nu":0.394},{"p":"4mm","s":434,"t":2,"E":282,"nu":0.45},
{"p":"4mm","s":437,"t":0,"E":300,"nu":0.281},{"p":"4mm","s":437,"t":1,"E":291.5,"nu":0.366},{"p":"4mm","s":437,"t":2,"E":273,"nu":0.45},
{"p":"4mm","s":440,"t":0,"E":300,"nu":0.225},{"p":"4mm","s":440,"t":1,"E":289,"nu":0.3375},{"p":"4mm","s":440,"t":2,"E":264.5,"nu":0.45},
{"p":"4mm","s":443,"t":0,"E":300,"nu":0.169},{"p":"4mm","s":443,"t":1,"E":286.3,"nu":0.309},{"p":"4mm","s":443,"t":2,"E":255.8,"nu":0.45},
{"p":"4mm","s":446,"t":0,"E":300,"nu":0.1125},{"p":"4mm","s":446,"t":1,"E":283.6,"nu":0.281},{"p":"4mm","s":446,"t":2,"E":247,"nu":0.45},
{"p":"4mm","s":449,"t":0,"E":300,"nu":0.056},{"p":"4mm","s":449,"t":1,"E":280.8,"nu":0.253},{"p":"4mm","s":449,"t":2,"E":238,"nu":0.45},
{"p":"4mm","s":452,"t":0,"E":300,"nu":0},{"p":"4mm","s":452,"t":1,"E":278,"nu":0.225},{"p":"4mm","s":452,"t":2,"E":229,"nu":0.45},
{"p":"4mm","s":456,"t":0,"E":289.5,"nu":0},{"p":"4mm","s":456,"t":1,"E":267,"nu":0.225},{"p":"4mm","s":456,"t":2,"E":217,"nu":0.45},
{"p":"4mm","s":460,"t":0,"E":279,"nu":0},{"p":"4mm","s":460,"t":1,"E":256,"nu":0.225},{"p":"4mm","s":460,"t":2,"E":205,"nu":0.45},
{"p":"4mm","s":465,"t":0,"E":265.9,"nu":0},{"p":"4mm","s":465,"t":1,"E":242.3,"nu":0.225},{"p":"4mm","s":465,"t":2,"E":190,"nu":0.45},
{"p":"4mm","s":470,"t":0,"E":252.7,"nu":0},{"p":"4mm","s":470,"t":1,"E":228.6,"nu":0.225},{"p":"4mm","s":470,"t":2,"E":175,"nu":0.45},
{"p":"4mm","s":477.5,"t":0,"E":233,"nu":0},{"p":"4mm","s":477.5,"t":1,"E":209.2,"nu":0.225},{"p":"4mm","s":477.5,"t":2,"E":156.3,"nu":0.45},
{"p":"4mm","s":485,"t":0,"E":213.3,"nu":0},{"p":"4mm","s":485,"t":1,"E":189.8,"nu":0.225},{"p":"4mm","s":485,"t":2,"E":137.5,"nu":0.45},
{"p":"4mm","s":492.5,"t":0,"E":193.6,"nu":0},{"p":"4mm","s":492.5,"t":1,"E":170.7,"nu":0.225},{"p":"4mm","s":492.5,"t":2,"E":119.8,"nu":0.45},
{"p":"4mm","s":500,"t":0,"E":173.9,"nu":0},{"p":"4mm","s":500,"t":1,"E":151.6,"nu":0.225},{"p":"4mm","s":500,"t":2,"E":102,"nu":0.45},
{"p":"4mm","s":506.5,"t":0,"E":156.8,"nu":0},{"p":"4mm","s":506.5,"t":1,"E":135.3,"nu":0.225},{"p":"4mm","s":506.5,"t":2,"E":87.5,"nu":0.45},
{"p":"4mm","s":513,"t":0,"E":139.7,"nu":0},{"p":"4mm","s":513,"t":1,"E":119,"nu":0.225},{"p":"4mm","s":513,"t":2,"E":73,"nu":0.45},
{"p":"4mm","s":521.5,"t":0,"E":133.1,"nu":0},{"p":"4mm","s":521.5,"t":1,"E":111.6,"nu":0.225},{"p":"4mm","s":521.5,"t":2,"E":63.9,"nu":0.45},
{"p":"4mm","s":530,"t":0,"E":126.5,"nu":0},{"p":"4mm","s":530,"t":1,"E":104.2,"nu":0.225},{"p":"4mm","s":530,"t":2,"E":54.7,"nu":0.45},
{"p":"4mm","s":539,"t":0,"E":119.5,"nu":0},{"p":"4mm","s":539,"t":1,"E":98.3,"nu":0.225},{"p":"4mm","s":539,"t":2,"E":51.2,"nu":0.45},
{"p":"4mm","s":548,"t":0,"E":112.5,"nu":0},{"p":"4mm","s":548,"t":1,"E":92.4,"nu":0.225},{"p":"4mm","s":548,"t":2,"E":47.6,"nu":0.45},
{"p":"4mm","s":556.5,"t":0,"E":105.9,"nu":0},{"p":"4mm","s":556.5,"t":1,"E":86.9,"nu":0.225},{"p":"4mm","s":556.5,"t":2,"E":44.6,"nu":0.45},
{"p":"4mm","s":565,"t":0,"E":99.3,"nu":0},{"p":"4mm","s":565,"t":1,"E":81.4,"nu":0.225},{"p":"4mm","s":565,"t":2,"E":41.5,"nu":0.45},
{"p":"4mm","s":575,"t":0,"E":92.9,"nu":0},{"p":"4mm","s":575,"t":1,"E":75.9,"nu":0.225},{"p":"4mm","s":575,"t":2,"E":38.2,"nu":0.45},
{"p":"4mm","s":585,"t":0,"E":86.4,"nu":0},{"p":"4mm","s":585,"t":1,"E":70.4,"nu":0.225},{"p":"4mm","s":585,"t":2,"E":34.9,"nu":0.45},
{"p":"4mm","s":597.5,"t":0,"E":78.4,"nu":0},{"p":"4mm","s":597.5,"t":1,"E":64,"nu":0.225},{"p":"4mm","s":597.5,"t":2,"E":32,"nu":0.45},
{"p":"4mm","s":610,"t":0,"E":70.4,"nu":0},{"p":"4mm","s":610,"t":1,"E":57.6,"nu":0.225},{"p":"4mm","s":610,"t":2,"E":29,"nu":0.45},
{"p":"4mm","s":622.5,"t":0,"E":65.2,"nu":0},{"p":"4mm","s":622.5,"t":1,"E":53.2,"nu":0.225},{"p":"4mm","s":622.5,"t":2,"E":26.4,"nu":0.45},
{"p":"4mm","s":635,"t":0,"E":60,"nu":0},{"p":"4mm","s":635,"t":1,"E":48.7,"nu":0.225},{"p":"4mm","s":635,"t":2,"E":23.7,"nu":0.45},
{"p":"4mm","s":650,"t":0,"E":54.6,"nu":0},{"p":"4mm","s":650,"t":1,"E":44.3,"nu":0.225},{"p":"4mm","s":650,"t":2,"E":21.5,"nu":0.45},
{"p":"4mm","s":665,"t":0,"E":49.1,"nu":0},{"p":"4mm","s":665,"t":1,"E":39.9,"nu":0.225},{"p":"4mm","s":665,"t":2,"E":19.3,"nu":0.45},
{"p":"4mm","s":680,"t":0,"E":44.9,"nu":0},{"p":"4mm","s":680,"t":1,"E":36.3,"nu":0.225},{"p":"4mm","s":680,"t":2,"E":17.1,"nu":0.45},
{"p":"4mm","s":695,"t":0,"E":40.6,"nu":0},{"p":"4mm","s":695,"t":1,"E":32.6,"nu":0.225},{"p":"4mm","s":695,"t":2,"E":14.9,"nu":0.45},
{"p":"4mm","s":710,"t":0,"E":37.1,"nu":0},{"p":"4mm","s":710,"t":1,"E":29.7,"nu":0.225},{"p":"4mm","s":710,"t":2,"E":13.2,"nu":0.45},
{"p":"4mm","s":725,"t":0,"E":33.6,"nu":0},{"p":"4mm","s":725,"t":1,"E":26.8,"nu":0.225},{"p":"4mm","s":725,"t":2,"E":11.5,"nu":0.45},
{"p":"4mm","s":740,"t":0,"E":31.3,"nu":0},{"p":"4mm","s":740,"t":1,"E":24.7,"nu":0.225},{"p":"4mm","s":740,"t":2,"E":10.1,"nu":0.45},
{"p":"4mm","s":755,"t":0,"E":28.9,"nu":0},{"p":"4mm","s":755,"t":1,"E":22.6,"nu":0.225},{"p":"4mm","s":755,"t":2,"E":8.6,"nu":0.45},
{"p":"4mm","s":770,"t":0,"E":27.1,"nu":0},{"p":"4mm","s":770,"t":1,"E":20.9,"nu":0.225},{"p":"4mm","s":770,"t":2,"E":7.2,"nu":0.45},
{"p":"4mm","s":785,"t":0,"E":25.3,"nu":0},{"p":"4mm","s":785,"t":1,"E":19.2,"nu":0.225},{"p":"4mm","s":785,"t":2,"E":5.7,"nu":0.45},
{"p":"4mm","s":800,"t":0,"E":23.5,"nu":0},{"p":"4mm","s":800,"t":1,"E":17.6,"nu":0.225},{"p":"4mm","s":800,"t":2,"E":4.6,"nu":0.45},
{"p":"4mm","s":815,"t":0,"E":21.7,"nu":0},{"p":"4mm","s":815,"t":1,"E":16,"nu":0.225},{"p":"4mm","s":815,"t":2,"E":3.4,"nu":0.45},
{"p":"4mm","s":830,"t":0,"E":19.9,"nu":0},{"p":"4mm","s":830,"t":1,"E":14.5,"nu":0.225},{"p":"4mm","s":830,"t":2,"E":2.5,"nu":0.45},
{"p":"4mm","s":845,"t":0,"E":18.1,"nu":0},{"p":"4mm","s":845,"t":1,"E":13,"nu":0.225},{"p":"4mm","s":845,"t":2,"E":1.6,"nu":0.45},
{"p":"4mm","s":858,"t":0,"E":17,"nu":0},{"p":"4mm","s":858,"t":1,"E":12,"nu":0.225},{"p":"4mm","s":858,"t":2,"E":0.8,"nu":0.45},
{"p":"4mm","s":871,"t":0,"E":15.9,"nu":0},{"p":"4mm","s":871,"t":1,"E":11,"nu":0.225},{"p":"4mm","s":871,"t":2,"E":0,"nu":0.45},
{"p":"4mm","s":886.5,"t":0,"E":14.6,"nu":0},{"p":"4mm","s":886.5,"t":1,"E":10.1,"nu":0.219},{"p":"4mm","s":886.5,"t":2,"E":0,"nu":0.438},
{"p":"4mm","s":902,"t":0,"E":13.2,"nu":0},{"p":"4mm","s":902,"t":1,"E":9.1,"nu":0.212},{"p":"4mm","s":902,"t":2,"E":0,"nu":0.425},
{"p":"4mm","s":916,"t":0,"E":12.1,"nu":0},{"p":"4mm","s":916,"t":1,"E":8.3,"nu":0.207},{"p":"4mm","s":916,"t":2,"E":0,"nu":0.414},
{"p":"4mm","s":930,"t":0,"E":10.9,"nu":0},{"p":"4mm","s":930,"t":1,"E":7.5,"nu":0.202},{"p":"4mm","s":930,"t":2,"E":0,"nu":0.403},
{"p":"4mm","s":944,"t":0,"E":9.8,"nu":0},{"p":"4mm","s":944,"t":1,"E":6.8,"nu":0.196},{"p":"4mm","s":944,"t":2,"E":0,"nu":0.392},
{"p":"4mm","s":958,"t":0,"E":8.7,"nu":0},{"p":"4mm","s":958,"t":1,"E":6,"nu":0.19},{"p":"4mm","s":958,"t":2,"E":0,"nu":0.38},
{"p":"4mm","s":972,"t":0,"E":7.9,"nu":0},{"p":"4mm","s":972,"t":1,"E":5.5,"nu":0.184},{"p":"4mm","s":972,"t":2,"E":0,"nu":0.368},
{"p":"4mm","s":986,"t":0,"E":7.1,"nu":0},{"p":"4mm","s":986,"t":1,"E":4.9,"nu":0.178},{"p":"4mm","s":986,"t":2,"E":0,"nu":0.356},
{"p":"4mm","s":1000,"t":0,"E":6.4,"nu":0},{"p":"4mm","s":1000,"t":1,"E":4.4,"nu":0.172},{"p":"4mm","s":1000,"t":2,"E":0,"nu":0.343},
{"p":"4mm","s":1014,"t":0,"E":5.6,"nu":0},{"p":"4mm","s":1014,"t":1,"E":3.9,"nu":0.165},{"p":"4mm","s":1014,"t":2,"E":0,"nu":0.33},
{"p":"4mm","s":1028,"t":0,"E":4.8,"nu":0},{"p":"4mm","s":1028,"t":1,"E":3.4,"nu":0.159},{"p":"4mm","s":1028,"t":2,"E":0,"nu":0.317},
{"p":"4mm","s":1042,"t":0,"E":4,"nu":0},{"p":"4mm","s":1042,"t":1,"E":2.8,"nu":0.152},{"p":"4mm","s":1042,"t":2,"E":0,"nu":0.303},
{"p":"4mm","s":1056,"t":0,"E":3.6,"nu":0},{"p":"4mm","s":1056,"t":1,"E":2.5,"nu":0.144},{"p":"4mm","s":1056,"t":2,"E":0,"nu":0.287},
{"p":"4mm","s":1070,"t":0,"E":3.1,"nu":0},{"p":"4mm","s":1070,"t":1,"E":2.1,"nu":0.136},{"p":"4mm","s":1070,"t":2,"E":0,"nu":0.271},
{"p":"4mm","s":1084,"t":0,"E":2.7,"nu":0},{"p":"4mm","s":1084,"t":1,"E":1.9,"nu":0.128},{"p":"4mm","s":1084,"t":2,"E":0,"nu":0.255},
{"p":"4mm","s":1098,"t":0,"E":2.3,"nu":0},{"p":"4mm","s":1098,"t":1,"E":1.6,"nu":0.119},{"p":"4mm","s":1098,"t":2,"E":0,"nu":0.238},
{"p":"4mm","s":1112,"t":0,"E":2,"nu":0},{"p":"4mm","s":1112,"t":1,"E":1.4,"nu":0.108},{"p":"4mm","s":1112,"t":2,"E":0,"nu":0.216},
{"p":"4mm","s":1126,"t":0,"E":1.6,"nu":0},{"p":"4mm","s":1126,"t":1,"E":1.1,"nu":0.097},{"p":"4mm","s":1126,"t":2,"E":0,"nu":0.194},
{"p":"4mm","s":1140.5,"t":0,"E":1.2,"nu":0},{"p":"4mm","s":1140.5,"t":1,"E":0.8,"nu":0.086},{"p":"4mm","s":1140.5,"t":2,"E":0,"nu":0.171},
{"p":"4mm","s":1155,"t":0,"E":0.8,"nu":0},{"p":"4mm","s":1155,"t":1,"E":0.5,"nu":0.074},{"p":"4mm","s":1155,"t":2,"E":0,"nu":0.147},
{"p":"4mm","s":1169.5,"t":0,"E":0.4,"nu":0},{"p":"4mm","s":1169.5,"t":1,"E":0.3,"nu":0.037},{"p":"4mm","s":1169.5,"t":2,"E":0,"nu":0.074},
{"p":"4mm","s":1184,"t":0,"E":0,"nu":0},{"p":"4mm","s":1184,"t":1,"E":0,"nu":0},{"p":"4mm","s":1184,"t":2,"E":0,"nu":0},

{"p":"1mm","s":513,"o":0,"E":177,"nu":0},{"p":"1mm","s":513,"o":1,"E":174,"nu":0.037},{"p":"1mm","s":513,"o":2,"E":168.6,"nu":0.087},{"p":"1mm","s":513,"o":3,"E":149.6,"nu":0.169},{"p":"1mm","s":513,"o":4,"E":126.6,"nu":0.258},{"p":"1mm","s":513,"o":5,"E":107,"nu":0.325},{"p":"1mm","s":513,"o":6,"E":84.7,"nu":0.389},{"p":"1mm","s":513,"o":7,"E":56,"nu":0.45},
{"p":"2mm","s":513,"o":0,"E":152.3,"nu":0},{"p":"2mm","s":513,"o":1,"E":149.6,"nu":0.039},{"p":"2mm","s":513,"o":2,"E":139,"nu":0.098},{"p":"2mm","s":513,"o":3,"E":130,"nu":0.162},{"p":"2mm","s":513,"o":4,"E":119,"nu":0.23},{"p":"2mm","s":513,"o":5,"E":104,"nu":0.313},{"p":"2mm","s":513,"o":6,"E":87,"nu":0.383},{"p":"2mm","s":513,"o":7,"E":73.6,"nu":0.427},{"p":"2mm","s":513,"o":8,"E":67.6,"nu":0.45},
{"p":"3mm","s":513,"o":0,"E":145.5,"nu":0},{"p":"3mm","s":513,"o":1,"E":141,"nu":0.048},{"p":"3mm","s":513,"o":2,"E":135,"nu":0.107},{"p":"3mm","s":513,"o":3,"E":126.8,"nu":0.178},{"p":"3mm","s":513,"o":4,"E":116.9,"nu":0.252},{"p":"3mm","s":513,"o":5,"E":104.3,"nu":0.322},{"p":"3mm","s":513,"o":6,"E":87.3,"nu":0.393},{"p":"3mm","s":513,"o":7,"E":70.8,"nu":0.45},
{"p":"4mm","s":513,"o":0,"E":139.7,"nu":0},{"p":"4mm","s":513,"o":1,"E":137,"nu":0.043},{"p":"4mm","s":513,"o":2,"E":133.9,"nu":0.105},{"p":"4mm","s":513,"o":3,"E":126.3,"nu":0.167},{"p":"4mm","s":513,"o":4,"E":118.7,"nu":0.228},{"p":"4mm","s":513,"o":5,"E":105.9,"nu":0.299},{"p":"4mm","s":513,"o":6,"E":90,"nu":0.376},{"p":"4mm","s":513,"o":7,"E":73,"nu":0.45}
],
"frame":[
{"k":"plane","id":"pl","o":0,"E":0,"nu":0,"s":513},{"k":"plane","id":"pl","o":1,"E":300,"nu":0,"s":513},{"k":"plane","id":"pl","o":2,"E":300,"nu":0.45,"s":513},{"k":"plane","id":"pl","o":3,"E":0,"nu":0.45,"s":513},
{"k":"g","id":"g1","o":0,"E":0,"nu":0,"s":600},{"k":"g","id":"g1","o":1,"E":0,"nu":0.45,"s":600},
{"k":"g","id":"g2","o":0,"E":0,"nu":0,"s":800},{"k":"g","id":"g2","o":1,"E":0,"nu":0.45,"s":800},
{"k":"g","id":"g3","o":0,"E":0,"nu":0,"s":1000},{"k":"g","id":"g3","o":1,"E":0,"nu":0.45,"s":1000},
{"k":"g","id":"g4","o":0,"E":0,"nu":0,"s":1200},{"k":"g","id":"g4","o":1,"E":0,"nu":0.45,"s":1200},
{"k":"g","id":"g5","o":0,"E":0,"nu":0.45,"s":600},{"k":"g","id":"g5","o":1,"E":300,"nu":0.45,"s":600},
{"k":"g","id":"g6","o":0,"E":0,"nu":0.45,"s":800},{"k":"g","id":"g6","o":1,"E":300,"nu":0.45,"s":800},
{"k":"g","id":"g7","o":0,"E":0,"nu":0.45,"s":1000},{"k":"g","id":"g7","o":1,"E":300,"nu":0.45,"s":1000},
{"k":"g","id":"g8","o":0,"E":0,"nu":0.45,"s":1200},{"k":"g","id":"g8","o":1,"E":300,"nu":0.45,"s":1200},
{"k":"g","id":"g9","o":0,"E":0,"nu":0.15,"s":420},{"k":"g","id":"g9","o":1,"E":0,"nu":0.15,"s":1200},
{"k":"g","id":"g10","o":0,"E":0,"nu":0.3,"s":420},{"k":"g","id":"g10","o":1,"E":0,"nu":0.3,"s":1200},
{"k":"g","id":"g11","o":0,"E":100,"nu":0.45,"s":420},{"k":"g","id":"g11","o":1,"E":100,"nu":0.45,"s":1200},
{"k":"g","id":"g12","o":0,"E":200,"nu":0.45,"s":420},{"k":"g","id":"g12","o":1,"E":200,"nu":0.45,"s":1200},
{"k":"g","id":"g13","o":0,"E":0,"nu":0.45,"s":420},{"k":"g","id":"g13","o":1,"E":0,"nu":0.45,"s":1200},
{"k":"g","id":"g14","o":0,"E":300,"nu":0.45,"s":420},{"k":"g","id":"g14","o":1,"E":300,"nu":0.45,"s":1200},
{"k":"g","id":"g15","o":0,"E":100,"nu":0,"s":420},{"k":"g","id":"g15","o":1,"E":100,"nu":0.45,"s":420},
{"k":"g","id":"g16","o":0,"E":200,"nu":0,"s":420},{"k":"g","id":"g16","o":1,"E":200,"nu":0.45,"s":420},
{"k":"g","id":"g17","o":0,"E":0,"nu":0.15,"s":420},{"k":"g","id":"g17","o":1,"E":300,"nu":0.15,"s":420},
{"k":"g","id":"g18","o":0,"E":0,"nu":0.3,"s":420},{"k":"g","id":"g18","o":1,"E":300,"nu":0.3,"s":420},
{"k":"a","id":"z","o":0,"E":0,"nu":0,"s":420},{"k":"a","id":"z","o":1,"E":0,"nu":0,"s":1200},
{"k":"a","id":"x","o":0,"E":0,"nu":0,"s":420},{"k":"a","id":"x","o":1,"E":300,"nu":0,"s":420},
{"k":"a","id":"n","o":0,"E":300,"nu":0,"s":420},{"k":"a","id":"n","o":1,"E":300,"nu":0.45,"s":420},
{"k":"a","id":"t1","o":0,"E":0,"nu":0,"s":600},{"k":"a","id":"t1","o":1,"E":-8,"nu":0,"s":600},
{"k":"a","id":"t2","o":0,"E":0,"nu":0,"s":800},{"k":"a","id":"t2","o":1,"E":-8,"nu":0,"s":800},
{"k":"a","id":"t3","o":0,"E":0,"nu":0,"s":1000},{"k":"a","id":"t3","o":1,"E":-8,"nu":0,"s":1000},
{"k":"a","id":"t4","o":0,"E":0,"nu":0,"s":1200},{"k":"a","id":"t4","o":1,"E":-8,"nu":0,"s":1200},
{"k":"a","id":"t5","o":0,"E":100,"nu":0,"s":420},{"k":"a","id":"t5","o":1,"E":100,"nu":-0.012,"s":420},
{"k":"a","id":"t6","o":0,"E":200,"nu":0,"s":420},{"k":"a","id":"t6","o":1,"E":200,"nu":-0.012,"s":420},
{"k":"a","id":"t7","o":0,"E":300,"nu":0,"s":420},{"k":"a","id":"t7","o":1,"E":300,"nu":-0.012,"s":420},
{"k":"a","id":"t8","o":0,"E":300,"nu":0,"s":420},{"k":"a","id":"t8","o":1,"E":308,"nu":0,"s":420},
{"k":"a","id":"t9","o":0,"E":300,"nu":0.15,"s":420},{"k":"a","id":"t9","o":1,"E":308,"nu":0.15,"s":420},
{"k":"a","id":"t10","o":0,"E":300,"nu":0.3,"s":420},{"k":"a","id":"t10","o":1,"E":308,"nu":0.3,"s":420},
{"k":"a","id":"t11","o":0,"E":300,"nu":0.45,"s":420},{"k":"a","id":"t11","o":1,"E":308,"nu":0.45,"s":420},
{"k":"zl","lab":"600","E":0,"nu":0,"s":600},{"k":"zl","lab":"800","E":0,"nu":0,"s":800},{"k":"zl","lab":"1000","E":0,"nu":0,"s":1000},{"k":"zl","lab":"1200","E":0,"nu":0,"s":1200},
{"k":"el","lab":"100","E":100,"nu":0,"s":420},{"k":"el","lab":"200","E":200,"nu":0,"s":420},{"k":"el","lab":"300","E":300,"nu":0,"s":420},
{"k":"nl","lab":"0","E":300,"nu":0,"s":420},{"k":"nl","lab":"0.15","E":300,"nu":0.15,"s":420},{"k":"nl","lab":"0.3","E":300,"nu":0.3,"s":420},{"k":"nl","lab":"0.45","E":300,"nu":0.45,"s":420},
{"k":"et","lab":"E / GPa","E":100,"nu":0,"s":420},{"k":"nt","lab":"ν","E":300,"nu":0.3,"s":420},
{"k":"s1","lab":"σ","E":0,"nu":0,"s":420},{"k":"s2","lab":"-max / MPa","E":0,"nu":0,"s":420}
]},
"data":{"name":"surf"},
"columns":2,
"facet":{"field":"p","type":"nominal","title":null,"header":{"labels":false,"title":null,"labelExpr":"''","labelFontSize":1,"labelPadding":0,"labelColor":"transparent"}},
"spacing":{"row":72,"column":29},
"resolve":{"scale":{"fill":"independent","stroke":"independent"}},
"spec":{"width":1038,"height":938,
"encoding":{"x":{"field":"px","type":"quantitative","axis":null,"scale":{"domain":[0,1038],"nice":false,"zero":false}},"y":{"field":"py","type":"quantitative","axis":null,"scale":{"domain":[943,5],"nice":false,"zero":false}}},
"layer":[
{"data":{"name":"frame"},"transform":[{"filter":"datum.k=='g'"},{"calculate":"142.4+1.4787*datum.E+827.3*datum.nu","as":"px"},{"calculate":"668+.738*datum.E-587.6*datum.nu-.4485*(datum.s-420)","as":"py"}],"mark":{"type":"line","stroke":"#e4e4e4","strokeWidth":1.3},"encoding":{"detail":{"field":"id"},"order":{"field":"o"}}},
{"data":{"name":"frame"},"transform":[{"filter":"datum.k=='a'"},{"calculate":"142.4+1.4787*datum.E+827.3*datum.nu","as":"px"},{"calculate":"668+.738*datum.E-587.6*datum.nu-.4485*(datum.s-420)","as":"py"}],"mark":{"type":"line","stroke":"#5a5a5a","strokeWidth":1.2},"encoding":{"detail":{"field":"id"},"order":{"field":"o"}}},
{"transform":[{"filter":"datum.t!=null"},{"window":[{"op":"lead","field":"E","as":"E2"},{"op":"lead","field":"nu","as":"nu2"},{"op":"lead","field":"s","as":"s2"}],"groupby":["p","t"],"sort":[{"field":"s"}]},{"filter":"datum.s2!=null && datum.s<513"},{"fold":["E","E2"],"as":["side","Ev"]},{"calculate":"datum.side=='E'?datum.nu:datum.nu2","as":"nuv"},{"calculate":"datum.side=='E'?datum.s:datum.s2","as":"sv"},{"calculate":"datum.side=='E'?datum.t:5-datum.t","as":"ord"},{"calculate":"(datum.s+datum.s2)/2","as":"level"},{"calculate":"142.4+1.4787*datum.Ev+827.3*datum.nuv","as":"px"},{"calculate":"668+.738*datum.Ev-587.6*datum.nuv-.4485*(datum.sv-420)","as":"py"}],"mark":{"type":"line","interpolate":"linear-closed","strokeWidth":1},"encoding":{"detail":{"field":"s"},"order":{"field":"ord"},"fill":{"field":"level","type":"quantitative","legend":null,"scale":{"scheme":"turbo"}},"stroke":{"field":"level","type":"quantitative","legend":null,"scale":{"scheme":"turbo"}}}},
{"data":{"name":"frame"},"transform":[{"filter":"datum.k=='plane'"},{"calculate":"142.4+1.4787*datum.E+827.3*datum.nu","as":"px"},{"calculate":"668+.738*datum.E-587.6*datum.nu-.4485*(datum.s-420)","as":"py"}],"mark":{"type":"line","interpolate":"linear-closed","filled":true,"fill":"#4fbeed","fillOpacity":0.715,"strokeWidth":0},"encoding":{"detail":{"field":"id"},"order":{"field":"o"}}},
{"transform":[{"filter":"datum.o!=null"},{"calculate":"datum.s","as":"level"},{"calculate":"142.4+1.4787*datum.E+827.3*datum.nu","as":"px"},{"calculate":"668+.738*datum.E-587.6*datum.nu-.4485*(datum.s-420)","as":"py"}],"mark":{"type":"line","interpolate":"linear-closed","strokeWidth":0},"encoding":{"order":{"field":"o"},"fill":{"field":"level","type":"quantitative","legend":null,"scale":{"scheme":"turbo"}}}},
{"transform":[{"filter":"datum.t!=null"},{"window":[{"op":"lead","field":"E","as":"E2"},{"op":"lead","field":"nu","as":"nu2"},{"op":"lead","field":"s","as":"s2"}],"groupby":["p","t"],"sort":[{"field":"s"}]},{"filter":"datum.s2!=null && datum.s>=513"},{"fold":["E","E2"],"as":["side","Ev"]},{"calculate":"datum.side=='E'?datum.nu:datum.nu2","as":"nuv"},{"calculate":"datum.side=='E'?datum.s:datum.s2","as":"sv"},{"calculate":"datum.side=='E'?datum.t:5-datum.t","as":"ord"},{"calculate":"(datum.s+datum.s2)/2","as":"level"},{"calculate":"142.4+1.4787*datum.Ev+827.3*datum.nuv","as":"px"},{"calculate":"668+.738*datum.Ev-587.6*datum.nuv-.4485*(datum.sv-420)","as":"py"}],"mark":{"type":"line","interpolate":"linear-closed","strokeWidth":1},"encoding":{"detail":{"field":"s"},"order":{"field":"ord"},"fill":{"field":"level","type":"quantitative","legend":null,"scale":{"scheme":"turbo"}},"stroke":{"field":"level","type":"quantitative","legend":null,"scale":{"scheme":"turbo"}}}},
{"transform":[{"filter":"datum.o!=null"},{"calculate":"142.4+1.4787*datum.E+827.3*datum.nu","as":"px"},{"calculate":"668+.738*datum.E-587.6*datum.nu-.4485*(datum.s-420)","as":"py"}],"mark":{"type":"line","stroke":"#EDB120","strokeWidth":4.4,"interpolate":"cardinal"},"encoding":{"order":{"field":"o"}}},
{"data":{"name":"frame"},"transform":[{"filter":"datum.k=='zl'"},{"calculate":"142.4+1.4787*datum.E+827.3*datum.nu","as":"px"},{"calculate":"668+.738*datum.E-587.6*datum.nu-.4485*(datum.s-420)","as":"py"}],"mark":{"type":"text","font":"Liberation Serif","fontSize":31,"fill":"#262626","align":"right","baseline":"middle","dx":-20,"dy":-5},"encoding":{"text":{"field":"lab"}}},
{"data":{"name":"frame"},"transform":[{"filter":"datum.k=='el'"},{"calculate":"142.4+1.4787*datum.E+827.3*datum.nu","as":"px"},{"calculate":"668+.738*datum.E-587.6*datum.nu-.4485*(datum.s-420)","as":"py"}],"mark":{"type":"text","font":"Liberation Serif","fontSize":31,"fill":"#262626","align":"center","baseline":"middle","dx":-43,"dy":32},"encoding":{"text":{"field":"lab"}}},
{"data":{"name":"frame"},"transform":[{"filter":"datum.k=='nl'"},{"calculate":"142.4+1.4787*datum.E+827.3*datum.nu","as":"px"},{"calculate":"668+.738*datum.E-587.6*datum.nu-.4485*(datum.s-420)","as":"py"}],"mark":{"type":"text","font":"Liberation Serif","fontSize":31,"fill":"#262626","align":"left","baseline":"middle","dx":17,"dy":30},"encoding":{"text":{"field":"lab"}}},
{"data":{"name":"frame"},"transform":[{"filter":"datum.k=='et'"},{"calculate":"142.4+1.4787*datum.E+827.3*datum.nu","as":"px"},{"calculate":"668+.738*datum.E-587.6*datum.nu-.4485*(datum.s-420)","as":"py"}],"mark":{"type":"text","font":"Liberation Serif","fontSize":56,"fill":"#262626","align":"center","baseline":"middle","dx":-46.6,"dy":105},"encoding":{"text":{"field":"lab"}}},
{"data":{"name":"frame"},"transform":[{"filter":"datum.k=='nt'"},{"calculate":"142.4+1.4787*datum.E+827.3*datum.nu","as":"px"},{"calculate":"668+.738*datum.E-587.6*datum.nu-.4485*(datum.s-420)","as":"py"}],"mark":{"type":"text","font":"Liberation Serif","fontStyle":"italic","fontSize":56,"fill":"#262626","align":"center","baseline":"middle","dx":30,"dy":88},"encoding":{"text":{"field":"lab"}}},
{"data":{"name":"frame"},"transform":[{"filter":"datum.k=='s1'"},{"calculate":"142.4+1.4787*datum.E+827.3*datum.nu","as":"px"},{"calculate":"668+.738*datum.E-587.6*datum.nu-.4485*(datum.s-420)","as":"py"}],"mark":{"type":"text","font":"Liberation Serif","fontStyle":"italic","fontSize":56,"fill":"#262626","angle":270,"align":"left","baseline":"middle","dx":57,"dy":-112.4},"encoding":{"text":{"field":"lab"}}},
{"data":{"name":"frame"},"transform":[{"filter":"datum.k=='s2'"},{"calculate":"142.4+1.4787*datum.E+827.3*datum.nu","as":"px"},{"calculate":"668+.738*datum.E-587.6*datum.nu-.4485*(datum.s-420)","as":"py"}],"mark":{"type":"text","font":"Liberation Serif","fontSize":56,"fill":"#262626","angle":270,"align":"left","baseline":"middle","dx":85,"dy":-112.4},"encoding":{"text":{"field":"lab"}}},
{"transform":[{"filter":"datum.lab!=null"},{"calculate":"142.4+1.4787*datum.E+827.3*datum.nu","as":"px"},{"calculate":"668+.738*datum.E-587.6*datum.nu-.4485*(datum.s-420)","as":"py"}],"mark":{"type":"text","font":"Liberation Serif","fontWeight":"bold","fontSize":62,"fill":"black","align":"center","baseline":"middle","dx":31,"dy":-24},"encoding":{"text":{"field":"p"}}},
{"transform":[{"filter":"datum.lab!=null"},{"calculate":"142.4+1.4787*datum.E+827.3*datum.nu","as":"px"},{"calculate":"668+.738*datum.E-587.6*datum.nu-.4485*(datum.s-420)","as":"py"}],"mark":{"type":"text","font":"Liberation Serif","fontWeight":"bold","fontSize":80,"fill":"black","align":"center","baseline":"middle","dx":31,"dy":44},"encoding":{"text":{"field":"lab"}}}
]}}
